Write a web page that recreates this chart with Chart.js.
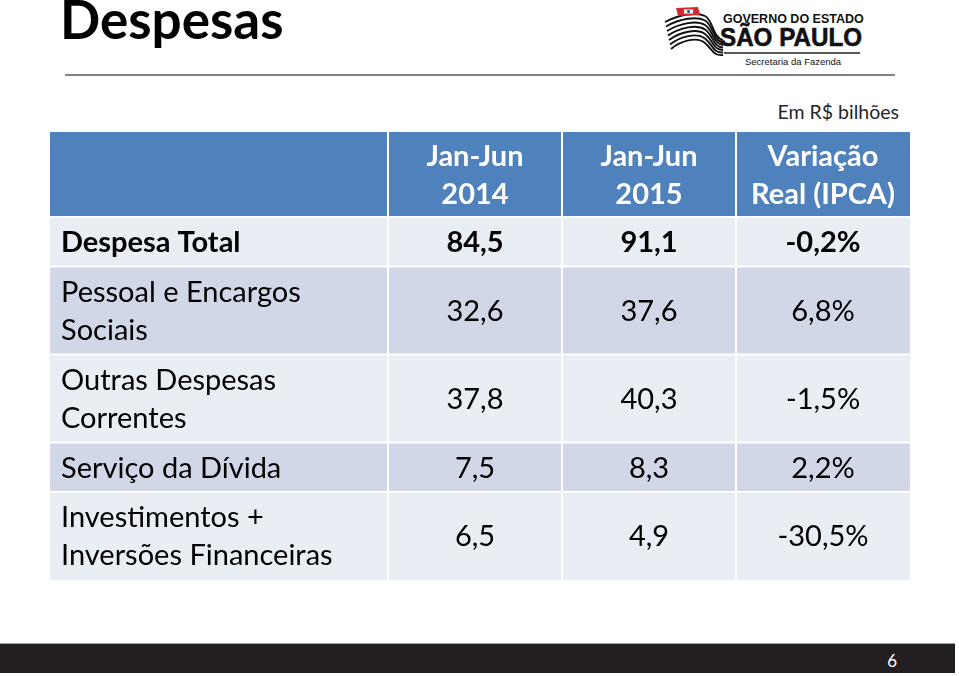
<!DOCTYPE html>
<html lang="pt-BR">
<head>
<meta charset="utf-8">
<title>Despesas</title>
<script src="https://cdn.jsdelivr.net/npm/chart.js@4.4.1/dist/chart.umd.min.js"></script>
<style>
  html, body { margin: 0; padding: 0; background: #fff; }
  body { width: 959px; height: 676px; position: relative; overflow: hidden; font-family: Lato, "Open Sans", sans-serif; }
  #title { position: absolute; left: 60px; top: -8px; font-size: 53px; line-height: 1; font-weight: bold; color: #000; }
  #rule { position: absolute; left: 65px; top: 74px; width: 830px; height: 2px; background: #808080; }
  #logo { position: absolute; left: 655px; top: 2px; }
  #unit { position: absolute; right: 60px; top: 102px; font-size: 19.5px; line-height: 1; color: #262626; }
  #tableChart { position: absolute; left: 50px; top: 132px; }
  #footer { position: absolute; left: 0; top: 643px; width: 955px; height: 29px; background: #231f20; border-top: 1px solid #a0a0a0; }
  #page { position: absolute; right: 62px; top: 652px; font-size: 17px; line-height: 1; color: #fff; }
</style>
</head>
<body>
<div id="title">Despesas</div>
<svg id="logo" width="215" height="66" viewBox="0 0 215 66">
  <g fill="none" stroke="#111" stroke-width="1.9">
    <path d="M10 20 C25 12 42 10 50 14 S58 36 68 38"/>
    <path d="M11 24.5 C25 16.5 42 14 50 18.5 S58 39 68 40.5"/>
    <path d="M12 29 C25 21 42 18 50 23 S58 42 68 43"/>
    <path d="M13 33.5 C25 25.5 42 22 50 27.5 S58 45 68 45.5"/>
    <path d="M14 38 C25 30 42 26 50 32 S58 48 68 48"/>
    <path d="M15 42.5 C25 34.5 42 30 50 36.5 S58 51 68 50.5"/>
    <path d="M16 47 C25 39 42 34 50 41 S58 54 68 53"/>
  </g>
  <polygon points="21,6 43,5 45,13 23,14" fill="#d7262e"/>
  <rect x="29" y="7.5" width="9" height="4" fill="#fff"/>
  <circle cx="33.5" cy="9.5" r="1.6" fill="#2b4c9b"/>
  <text x="68" y="21" font-family="Liberation Sans" font-weight="bold" font-size="12.5" fill="#111">GOVERNO DO ESTADO</text>
  <text x="65" y="44" font-family="Liberation Sans" font-weight="bold" font-size="25" fill="#111" stroke="#111" stroke-width="0.6" textLength="142" lengthAdjust="spacingAndGlyphs">SÃO PAULO</text>
  <line x1="69" y1="51" x2="205" y2="51" stroke="#222" stroke-width="1.3"/>
  <text x="90" y="63" font-family="Liberation Sans" font-size="9.5" fill="#111">Secretaria da Fazenda</text>
</svg>
<div id="rule"></div>
<div id="unit">Em R$ bilhões</div>
<canvas id="tableChart" width="860" height="448"></canvas>
<div id="footer"></div>
<div id="page">6</div>

<script>
// row labels (first column) and column headers
const rowLabels = ['Despesa Total', ['Pessoal e Encargos', 'Sociais'], ['Outras Despesas', 'Correntes'], 'Serviço da Dívida', ['Investimentos +', 'Inversões Financeiras']]
const headers = [['Jan-Jun', '2014'], ['Jan-Jun', '2015'], ['Variação', 'Real (IPCA)']]

// values in R$ bilhões, variation in %
const jan2014 = [84.5, 32.6, 37.8, 7.5, 6.5]
const jan2015 = [91.1, 37.6, 40.3, 8.3, 4.9]
const variacao = [-0.2, 6.8, -1.5, 2.2, -30.5]

const headerColor = '#4F81BD'
const lightRow = '#E9EDF4'
const darkRow = '#D0D8E8'
const fontFamily = 'Lato, "Open Sans", sans-serif'
const fontSize = 29

// two-line rows are taller than single-line rows
const rowWeight = rowLabels.map(l => Array.isArray(l) ? 1.78 : 1)
const rowEdges = [0]
rowWeight.forEach((w, i) => rowEdges.push(rowEdges[i] + w))
const rowCenters = rowWeight.map((w, i) => rowEdges[i] + w / 2)
const totalHeight = rowEdges[rowEdges.length - 1]

function fmt(v, pct) {
  return v.toFixed(1).replace('.', ',') + (pct ? '%' : '')
}

function columnData(values, col) {
  return values.map((v, i) => ({ x: col + 0.5, y: rowCenters[i], v: v }))
}

// cell backgrounds, drawn before the axes so labels sit on top
const cellBackground = {
  id: 'cellBackground',
  beforeDraw(chart) {
    const { ctx, chartArea, scales: { x, y } } = chart
    ctx.save()
    ctx.fillStyle = headerColor
    ctx.fillRect(0, x.top, chartArea.left - 1, x.bottom - x.top - 1)
    for (let c = 0; c < headers.length; c++) {
      const x0 = x.getPixelForValue(c) + 1
      const x1 = c == headers.length - 1 ? chartArea.right : x.getPixelForValue(c + 1) - 1
      ctx.fillRect(x0, x.top, x1 - x0, x.bottom - x.top - 1)
    }
    for (let r = 0; r < rowLabels.length; r++) {
      const y0 = y.getPixelForValue(rowEdges[r]) + 1
      const y1 = r == rowLabels.length - 1 ? chartArea.bottom : y.getPixelForValue(rowEdges[r + 1]) - 1
      ctx.fillStyle = r % 2 ? darkRow : lightRow
      ctx.fillRect(0, y0, chartArea.left - 1, y1 - y0)
      for (let c = 0; c < headers.length; c++) {
        const x0 = x.getPixelForValue(c) + 1
        const x1 = c == headers.length - 1 ? chartArea.right : x.getPixelForValue(c + 1) - 1
        ctx.fillRect(x0, y0, x1 - x0, y1 - y0)
      }
    }
    ctx.restore()
  }
}

// cell values written at each point's position
const cellValues = {
  id: 'cellValues',
  afterDatasetsDraw(chart) {
    const ctx = chart.ctx
    ctx.save()
    ctx.fillStyle = '#000'
    ctx.textAlign = 'center'
    ctx.textBaseline = 'middle'
    chart.data.datasets.forEach((ds, d) => {
      chart.getDatasetMeta(d).data.forEach((pt, i) => {
        ctx.font = (i == 0 ? 'bold ' : '') + fontSize + 'px ' + fontFamily
        ctx.fillText(fmt(ds.data[i].v, ds.pct), pt.x, pt.y + 1)
      })
    })
    ctx.restore()
  }
}

new Chart(document.getElementById('tableChart'), {
  type: 'scatter',
  data: {
    datasets: [
      { label: 'Jan-Jun 2014', data: columnData(jan2014, 0), pointRadius: 0 },
      { label: 'Jan-Jun 2015', data: columnData(jan2015, 1), pointRadius: 0 },
      { label: 'Variação Real (IPCA)', data: columnData(variacao, 2), pointRadius: 0, pct: true }
    ]
  },
  options: {
    responsive: false,
    devicePixelRatio: 1,
    animation: false,
    events: [],
    layout: { padding: { left: 11, top: 0, right: 0, bottom: 0 } },
    plugins: { legend: { display: false }, tooltip: { enabled: false } },
    scales: {
      x: {
        type: 'linear', position: 'top', min: 0, max: headers.length,
        grid: { display: false, drawTicks: false }, border: { display: false },
        afterBuildTicks: s => { s.ticks = headers.map((h, i) => ({ value: i + 0.5 })) },
        afterFit: s => { s.height = 85; s.paddingLeft = 0; s.paddingRight = 0 },
        ticks: {
          autoSkip: false, maxRotation: 0, padding: 4, color: '#fff',
          font: { family: fontFamily, size: fontSize, weight: 'bold', lineHeight: 1.3 },
          callback: (v, i) => headers[i]
        }
      },
      y: {
        type: 'linear', position: 'left', reverse: true, min: 0, max: totalHeight,
        grid: { display: false, drawTicks: false }, border: { display: false },
        afterBuildTicks: s => { s.ticks = rowCenters.map(v => ({ value: v + 0.02 })) },
        afterFit: s => { s.width = 327; s.paddingTop = 0; s.paddingBottom = 0 },
        ticks: {
          autoSkip: false, crossAlign: 'far', padding: 0, color: '#000',
          font: ctx => ({ family: fontFamily, size: fontSize, weight: ctx.index == 0 ? 'bold' : 'normal', lineHeight: 1.3 }),
          callback: (v, i) => rowLabels[i]
        }
      }
    }
  },
  plugins: [cellBackground, cellValues]
})
</script>
</body>
</html>
